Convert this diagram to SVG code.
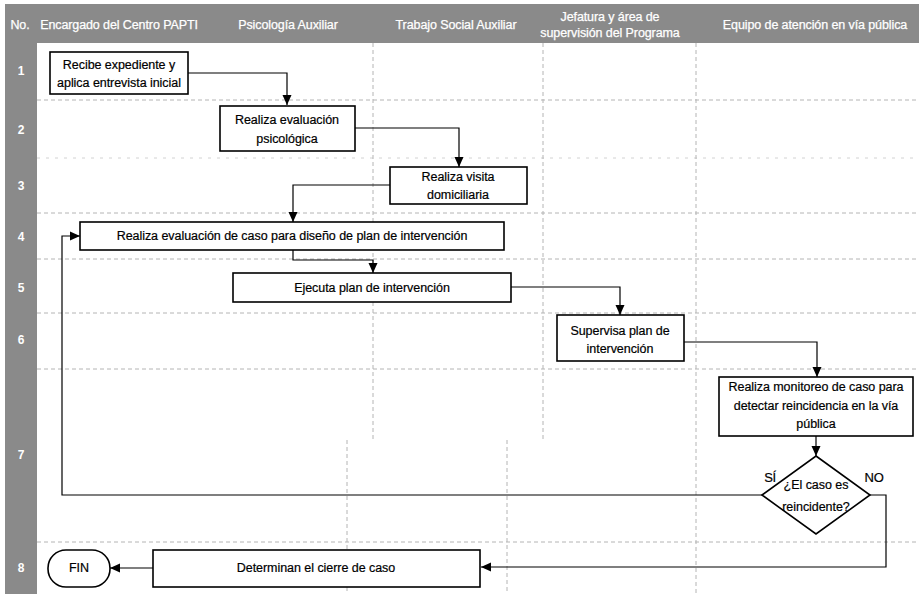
<svg xmlns="http://www.w3.org/2000/svg" width="919" height="594" viewBox="0 0 919 594">
  <style>
    .band { fill: #8a8a8a; }
    .hdr { font-family: "Liberation Sans", Arial, sans-serif; font-size: 12.5px; fill: #ffffff; stroke: #ffffff; stroke-width: 0.25; letter-spacing: -0.1px; text-anchor: middle; }
    .num { font-family: "Liberation Sans", Arial, sans-serif; font-size: 12px; font-weight: bold; fill: #ffffff; text-anchor: middle; }
    .grid { stroke: #b4b4b4; stroke-width: 1; stroke-dasharray: 4 3; fill: none; }
    .faint { stroke: #d2d2d2; stroke-width: 1; stroke-dasharray: 3 6; fill: none; }
    .box { fill: #ffffff; stroke: #000000; stroke-width: 1.6; }
    .lbl { font-family: "Liberation Sans", Arial, sans-serif; font-size: 12.5px; fill: #000000; stroke: #000000; stroke-width: 0.2; letter-spacing: -0.05px; text-anchor: middle; }
    .yn { font-family: "Liberation Sans", Arial, sans-serif; font-size: 13px; fill: #000000; stroke: #000000; stroke-width: 0.2; letter-spacing: -0.3px; text-anchor: middle; }
    .conn { fill: none; stroke: #000000; stroke-width: 1.2; }
  </style>
  <defs>
    <marker id="arrow" markerUnits="userSpaceOnUse" markerWidth="12" markerHeight="12" viewBox="0 0 12 12" refX="11" refY="6" orient="auto">
      <path d="M1,1.5 L11,6 L1,10.5 Z" fill="#000000"/>
    </marker>
  </defs>

  <rect width="919" height="594" fill="#ffffff"/>

  <!-- swimlane grid -->
  <g id="grid">
    <path class="grid" d="M37,100 H919 M37,213 H919 M37,259 H919 M37,313 H919 M37,369 H919 M37,542 H919"/>
    <path class="faint" d="M37,158 H919"/>
    <path class="grid" d="M373,43 V440 M543,43 V440 M347,440 V594 M507,440 V594 M696,43 V594"/>
  </g>

  <!-- header band and row-number column -->
  <g id="header">
    <rect class="band" x="5" y="4" width="914" height="39"/>
    <rect class="band" x="5" y="43" width="32" height="551"/>
    <text class="hdr" x="20" y="29">No.</text>
    <text class="hdr" x="119" y="29">Encargado del Centro PAPTI</text>
    <text class="hdr" x="288" y="29">Psicología  Auxiliar</text>
    <text class="hdr" x="456" y="29">Trabajo Social Auxiliar</text>
    <text class="hdr" x="610" y="21">Jefatura y área de</text>
    <text class="hdr" x="610" y="37">supervisión del Programa</text>
    <text class="hdr" x="815" y="29">Equipo de atención en vía pública</text>
  </g>
  <g id="rows">
    <text class="num" x="21" y="75">1</text>
    <text class="num" x="21" y="134">2</text>
    <text class="num" x="21" y="190">3</text>
    <text class="num" x="21" y="241">4</text>
    <text class="num" x="21" y="292">5</text>
    <text class="num" x="21" y="344">6</text>
    <text class="num" x="21" y="459">7</text>
    <text class="num" x="21" y="572">8</text>
  </g>

  <!-- connectors -->
  <g id="connectors">
    <path class="conn" d="M188,73 H287 V105" marker-end="url(#arrow)"/>
    <path class="conn" d="M355,128 H459 V167" marker-end="url(#arrow)"/>
    <path class="conn" d="M390,185 H293 V222" marker-end="url(#arrow)"/>
    <path class="conn" d="M293,250 V260 H373 V273" marker-end="url(#arrow)"/>
    <path class="conn" d="M511,287 H620 V315" marker-end="url(#arrow)"/>
    <path class="conn" d="M684,342 H817 V377" marker-end="url(#arrow)"/>
    <path class="conn" d="M816,436 V456" marker-end="url(#arrow)"/>
    <path class="conn" d="M762,495 H62 V236 H80" marker-end="url(#arrow)"/>
    <path class="conn" d="M870,495 H886 V567 H481" marker-end="url(#arrow)"/>
    <path class="conn" d="M153,568 H110" marker-end="url(#arrow)"/>
    <text class="yn" x="770" y="482">SÍ</text>
    <text class="yn" x="874" y="482">NO</text>
  </g>

  <!-- process nodes -->
  <g id="n1">
    <rect class="box" x="50" y="52" width="138" height="42"/>
    <text class="lbl" x="119" y="69">Recibe expediente y</text>
    <text class="lbl" x="119" y="87">aplica entrevista inicial</text>
  </g>
  <g id="n2">
    <rect class="box" x="220" y="106" width="135" height="45"/>
    <text class="lbl" x="287" y="124">Realiza evaluación</text>
    <text class="lbl" x="287" y="143">psicológica</text>
  </g>
  <g id="n3">
    <rect class="box" x="390" y="167" width="137" height="37"/>
    <text class="lbl" x="458" y="181">Realiza visita</text>
    <text class="lbl" x="458" y="199">domiciliaria</text>
  </g>
  <g id="n4">
    <rect class="box" x="80" y="222" width="424" height="28"/>
    <text class="lbl" x="292" y="240">Realiza evaluación de caso para diseño de plan de intervención</text>
  </g>
  <g id="n5">
    <rect class="box" x="233" y="273" width="278" height="29"/>
    <text class="lbl" x="372" y="292">Ejecuta plan de intervención</text>
  </g>
  <g id="n6">
    <rect class="box" x="557" y="315" width="127" height="46"/>
    <text class="lbl" x="620" y="335">Supervisa plan de</text>
    <text class="lbl" x="620" y="353">intervención</text>
  </g>
  <g id="n7">
    <rect class="box" x="719" y="377" width="194" height="59"/>
    <text class="lbl" x="816" y="391">Realiza monitoreo de caso para</text>
    <text class="lbl" x="816" y="410">detectar reincidencia en la vía</text>
    <text class="lbl" x="816" y="428">pública</text>
  </g>
  <g id="n8">
    <polygon class="box" points="816,456 870,495 816,534 762,495"/>
    <text class="lbl" x="816" y="489">¿El caso es</text>
    <text class="lbl" x="816" y="511">reincidente?</text>
  </g>
  <g id="n9">
    <rect class="box" x="153" y="550" width="327" height="37"/>
    <text class="lbl" x="316" y="572">Determinan el cierre de caso</text>
  </g>
  <g id="n10">
    <rect class="box" x="48" y="550" width="62" height="37" rx="18" ry="18"/>
    <text class="lbl" x="79" y="572">FIN</text>
  </g>
</svg>
